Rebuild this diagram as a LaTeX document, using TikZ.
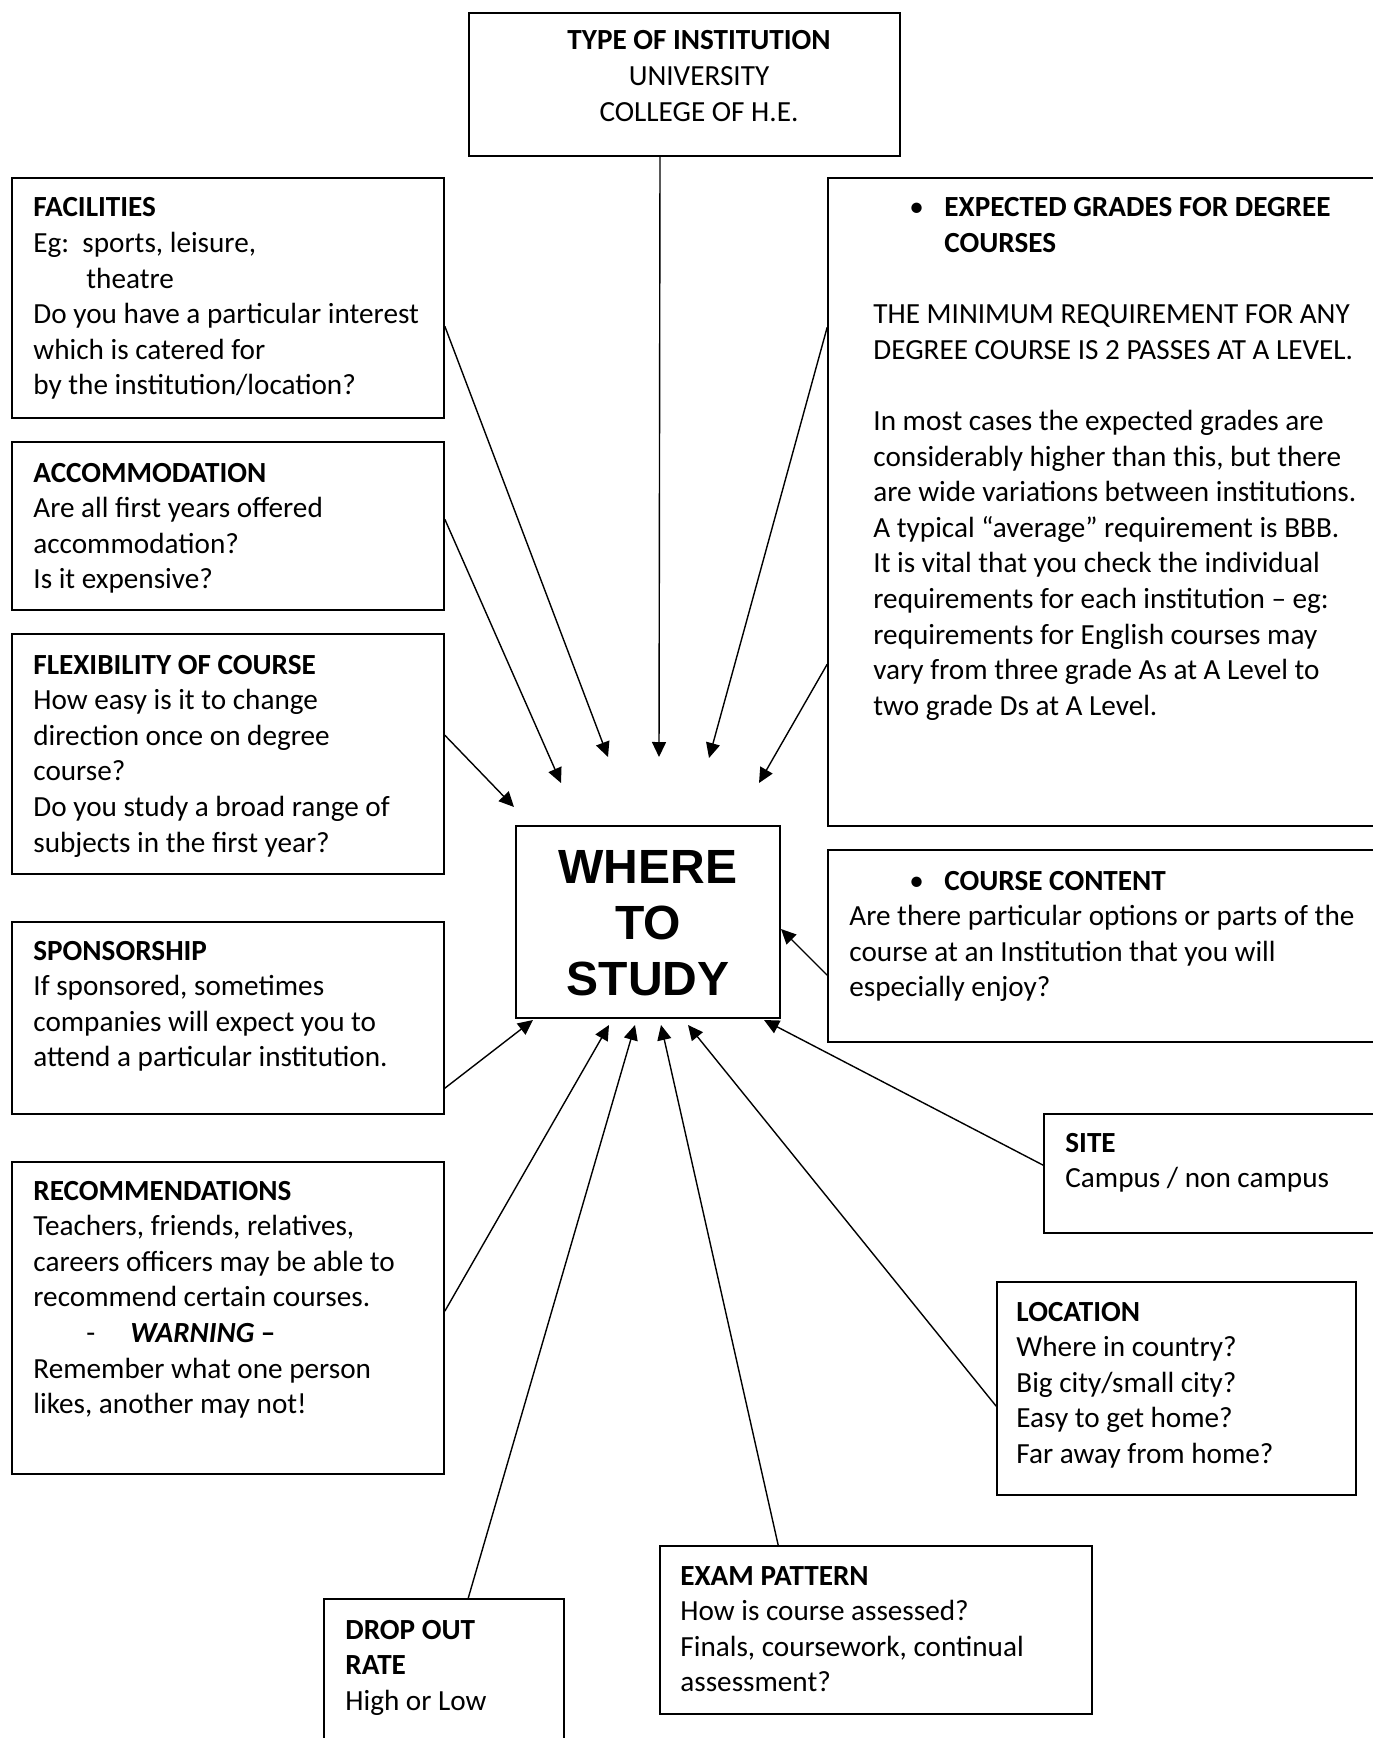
\documentclass[tikz,border=0pt]{standalone}
\usepackage{fontspec}
\setmainfont{Carlito}
\newfontfamily\arialfont{Liberation Sans}
\usetikzlibrary{arrows.meta, calc, fit}
\newcommand{\bodysize}{\fontsize{14.6pt}{17.8pt}\selectfont}
\newcommand{\wheresize}{\arialfont\bfseries\fontsize{24pt}{28pt}\selectfont}

\begin{document}
\begin{tikzpicture}[x=0.5pt, y=-0.5pt,
		box/.style={draw, line width=0.8pt, inner sep=0pt},
		txt/.style={anchor=base west, align=flush left, inner sep=0pt, text width=270pt, font=\bodysize},
		link/.style={line width=0.7pt, -{Triangle[length=7.5pt, width=7pt]}}]
	\useasboundingbox (0,0) rectangle (1372,1738);

	\node[box, fit={(469,13) (900,156)}] (type) {};
	\node[txt, anchor=base, align=flush center, text width=200pt] (type-t) at (699,50)
		{\textbf{TYPE OF INSTITUTION}\\UNIVERSITY\\COLLEGE OF H.E.};

	\node[box, fit={(12,178) (444,418)}] (fac) {};
	\node[txt] (fac-t) at (33,217)
		{\textbf{FACILITIES}\\
		\makebox[24.5pt][l]{Eg:}sports, leisure,\\
		\hspace*{26.5pt}theatre\\
		Do you have a particular interest\\
		which is catered for\\
		by the institution/location?};

	\node[box, fit={(12,442) (444,610)}] (acc) {};
	\node[txt] (acc-t) at (33,482)
		{\textbf{ACCOMMODATION}\\
		Are all first years offered\\
		accommodation?\\
		Is it expensive?};

	\node[box, fit={(12,634) (444,874)}] (flex) {};
	\node[txt] (flex-t) at (33,674)
		{\textbf{FLEXIBILITY OF COURSE}\\
		How easy is it to change\\
		direction once on degree\\
		course?\\
		Do you study a broad range of\\
		subjects in the first year?};

	\node[box, fit={(12,922) (444,1114)}] (spon) {};
	\node[txt] (spon-t) at (33,960)
		{\textbf{SPONSORSHIP}\\
		If sponsored, sometimes\\
		companies will expect you to\\
		attend a particular institution.};

	\node[box, fit={(12,1162) (444,1474)}] (rec) {};
	\node[txt] (rec-t) at (33,1200)
		{\textbf{RECOMMENDATIONS}\\
		Teachers, friends, relatives,\\
		careers officers may be able to\\
		recommend certain courses.\\
		\hspace*{26.5pt}\makebox[22pt][l]{-}\textbf{\textit{WARNING} –}\\
		Remember what one person\\
		likes, another may not!};

	\node[box, fit={(324,1599) (564,1760)}] (drop) {};
	\node[txt] (drop-t) at (345,1639)
		{\textbf{DROP OUT}\\
		\textbf{RATE}\\
		High or Low};

	\node[box, fit={(660,1546) (1092,1714)}] (exam) {};
	\node[txt] (exam-t) at (680,1585)
		{\textbf{EXAM PATTERN}\\
		How is course assessed?\\
		Finals, coursework, continual\\
		assessment?};

	\node[box, fit={(997,1282) (1356,1495)}] (loc) {};
	\node[txt] (loc-t) at (1016,1321)
		{\textbf{LOCATION}\\
		Where in country?\\
		Big city/small city?\\
		Easy to get home?\\
		Far away from home?};

	\node[box, fit={(1044,1114) (1385,1233)}] (site) {};
	\node[txt] (site-t) at (1065,1152)
		{\textbf{SITE}\\
		Campus / non campus};

	\node[box, fit={(828,850) (1385,1042)}] (course) {};
	\node[txt] (course-t) at (849,890)
		{\hspace*{30pt}\makebox[17.5pt][l]{•}\textbf{COURSE CONTENT}\\
		Are there particular options or parts of the\\
		course at an Institution that you will\\
		especially enjoy?};

	\node[box, fit={(828,178) (1385,826)}] (grades) {};
	\node[txt] (grades-t) at (873,217)
		{\hspace*{18pt}\makebox[17.5pt][l]{•}\textbf{EXPECTED GRADES FOR DEGREE}\\
		\hspace*{35.5pt}\textbf{COURSES}\\[17.8pt]
		THE MINIMUM REQUIREMENT FOR ANY\\
		DEGREE COURSE IS 2 PASSES AT A LEVEL.\\[17.8pt]
		In most cases the expected grades are\\
		considerably higher than this, but there\\
		are wide variations between institutions.\\
		A typical “average” requirement is BBB.\\
		It is vital that you check the individual\\
		requirements for each institution – eg:\\
		requirements for English courses may\\
		vary from three grade As at A Level to\\
		two grade Ds at A Level.};

	\node[box, fit={(516,826) (780,1018)}] (where) {};
	\node[txt, anchor=base, align=flush center, text width=120pt, font=\wheresize] (where-t) at (648,883)
		{WHERE\\TO\\STUDY};

	\coordinate (fac-tip) at (608,757);
	\coordinate (type-tip) at (659,757);
	\coordinate (grades-tip) at (709,758);
	\coordinate (grades-tip2) at (759,783);
	\coordinate (acc-tip) at (561,783);
	\coordinate (flex-tip) at (514,807);
	\coordinate (course-tip) at (781,929);
	\coordinate (spon-tip) at (533,1020);
	\coordinate (rec-tip) at (609,1025);
	\coordinate (drop-tip) at (635,1025);
	\coordinate (exam-tip) at (661,1025);
	\coordinate (loc-tip) at (688,1025);
	\coordinate (site-tip) at (764,1020);

	\draw[link] ($(fac.north east)+(0,149)$) -- (fac-tip);
	\draw[link] ($(type.south)+(-24.5,0)$) -- (type-tip);
	\draw[link] ($(grades.north west)+(0,150)$) -- (grades-tip);
	\draw[link] ($(grades.north west)+(0,487)$) -- (grades-tip2);
	\draw[link] ($(acc.north east)+(0,78)$) -- (acc-tip);
	\draw[link] ($(flex.north east)+(0,102)$) -- (flex-tip);
	\draw[link] ($(course.north west)+(0,126)$) -- (course-tip);
	\draw[link] ($(spon.north east)+(0,167)$) -- (spon-tip);
	\draw[link] ($(rec.north east)+(0,150)$) -- (rec-tip);
	\draw[link] ($(drop.north west)+(145,0)$) -- (drop-tip);
	\draw[link] ($(exam.north west)+(119,0)$) -- (exam-tip);
	\draw[link] ($(loc.north west)+(0,125)$) -- (loc-tip);
	\draw[link] ($(site.north west)+(0,52)$) -- (site-tip);
\end{tikzpicture}
\end{document}
